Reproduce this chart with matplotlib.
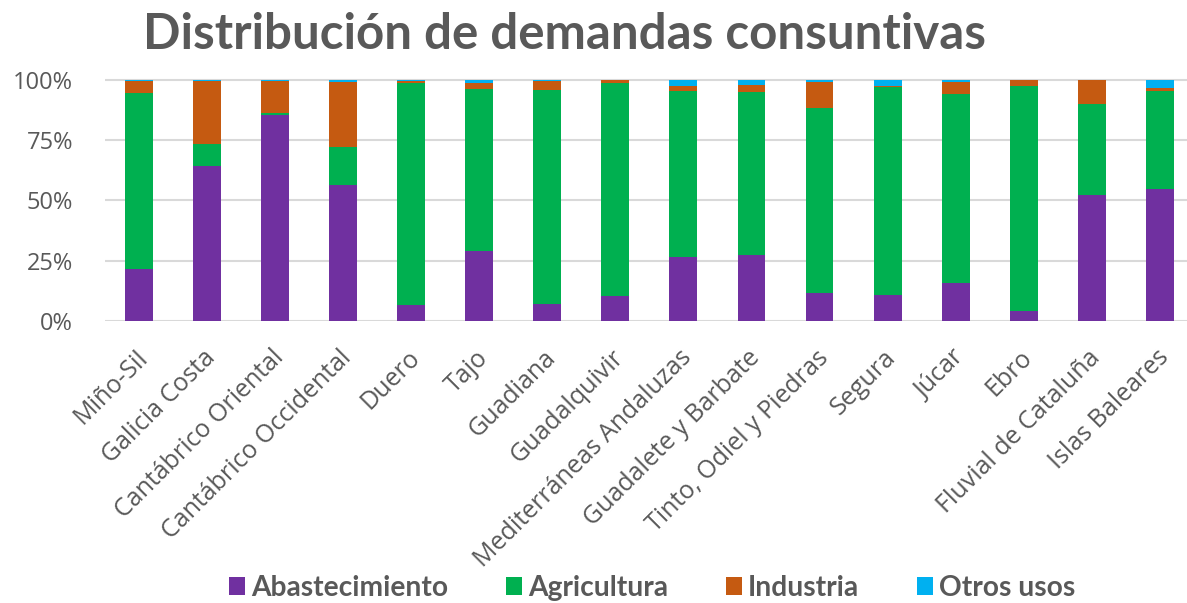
import matplotlib
matplotlib.use("Agg")
import matplotlib.pyplot as plt
import matplotlib.transforms as mtransforms
import numpy as np
from matplotlib.ticker import PercentFormatter

# cuencas hidrográficas
cuencas = [
    "Miño-Sil", "Galicia Costa", "Cantábrico Oriental", "Cantábrico Occidental",
    "Duero", "Tajo", "Guadiana", "Guadalquivir", "Mediterráneas Andaluzas",
    "Guadalete y Barbate", "Tinto, Odiel y Piedras", "Segura", "Júcar", "Ebro",
    "Fluvial de Cataluña", "Islas Baleares",
]

# porcentaje de la demanda por uso
abastecimiento = [21.4, 64.3, 85.3, 56.3, 6.5, 28.9, 6.9, 10.2, 26.4, 27.2, 11.5, 10.7, 15.6, 4.1, 52.1, 54.6]
agricultura = [73.1, 9.1, 0.9, 15.8, 92.1, 67.2, 88.8, 88.4, 68.9, 67.8, 76.9, 86.3, 78.5, 93.4, 37.9, 40.7]
industria = [5.1, 26.2, 13.2, 27.2, 1.0, 2.5, 3.9, 1.3, 2.2, 2.9, 10.9, 0.5, 5.2, 2.5, 10.0, 1.2]
otros = [0.4, 0.4, 0.6, 0.7, 0.4, 1.4, 0.4, 0.1, 2.5, 2.1, 0.7, 2.5, 0.7, 0.0, 0.0, 3.5]

series = [
    ("Abastecimiento", abastecimiento, "#7030A0"),
    ("Agricultura", agricultura, "#00B050"),
    ("Industria", industria, "#C55A11"),
    ("Otros usos", otros, "#00B0F0"),
]

GREY = "#595959"
BOLD_FONT = ["Lato", "DejaVu Sans"]
LABEL_FONT = ["Open Sans", "DejaVu Sans"]
W, H = 1187, 603

fig = plt.figure(figsize=(W / 100, H / 100), dpi=100)
ax = fig.add_axes([105 / W, 1 - 320.7 / H, 1 - 105 / W, (320.7 - 77) / H])

x = np.arange(len(cuencas))
bottom = np.zeros(len(cuencas))
handles = []
for name, vals, color in series:
    vals = np.array(vals) / 100.0
    h = ax.bar(x, vals, 0.41, bottom=bottom, color=color, label=name, zorder=3)
    handles.append(h)
    bottom += vals

ax.set_xlim(-0.5, 15.4)
ax.set_ylim(0, 1.0124)
ax.set_yticks([0, 0.25, 0.5, 0.75, 1.0])
ax.yaxis.set_major_formatter(PercentFormatter(1.0, decimals=0))
ax.grid(axis="y", color="#d9d9d9", linewidth=1.5, zorder=0)
for s in ax.spines.values():
    s.set_visible(False)
ax.tick_params(axis="y", length=0, pad=23, labelsize=17, labelcolor=GREY)
ax.tick_params(axis="x", length=0, pad=24, labelsize=18, labelcolor=GREY)
ax.set_xticks(x)
ax.set_xticklabels(cuencas, rotation=45, ha="right", va="center", rotation_mode="anchor",
                   family=LABEL_FONT)
shift = mtransforms.ScaledTranslation(5 / 100, 0, fig.dpi_scale_trans)
for t in ax.get_xticklabels():
    t.set_transform(t.get_transform() + shift)
for t in ax.get_yticklabels():
    t.set_family(LABEL_FONT)

title = fig.text(143 / W, 1 - 49 / H, "Distribución de demandas consuntivas",
                 fontsize=30, fontweight="bold", color=GREY, family=BOLD_FONT,
                 ha="left", va="baseline")

# ajustar el tamaño del título al ancho del original
renderer = fig.canvas.get_renderer()
tw = title.get_window_extent(renderer).width
title.set_fontsize(30 * 842 / tw)

# tamaño de letra de la leyenda según el ancho de "Abastecimiento"
probe = fig.text(0, 0, "Abastecimiento", fontsize=20, fontweight="bold", family=BOLD_FONT)
lw = probe.get_window_extent(renderer).width
probe.remove()
leg_size = 20 * 197 / lw
em = leg_size * 100 / 72

leg = fig.legend(handles=handles, loc="center", bbox_to_anchor=(652 / W, 1 - 588 / H), ncol=4,
                 frameon=False, handlelength=16 / em, handleheight=16 / em,
                 handletextpad=6 / em, columnspacing=58 / em, borderpad=0,
                 prop={"family": BOLD_FONT, "weight": "bold", "size": leg_size})
for t in leg.get_texts():
    t.set_color(GREY)

fig.savefig("out.png", dpi=100)
